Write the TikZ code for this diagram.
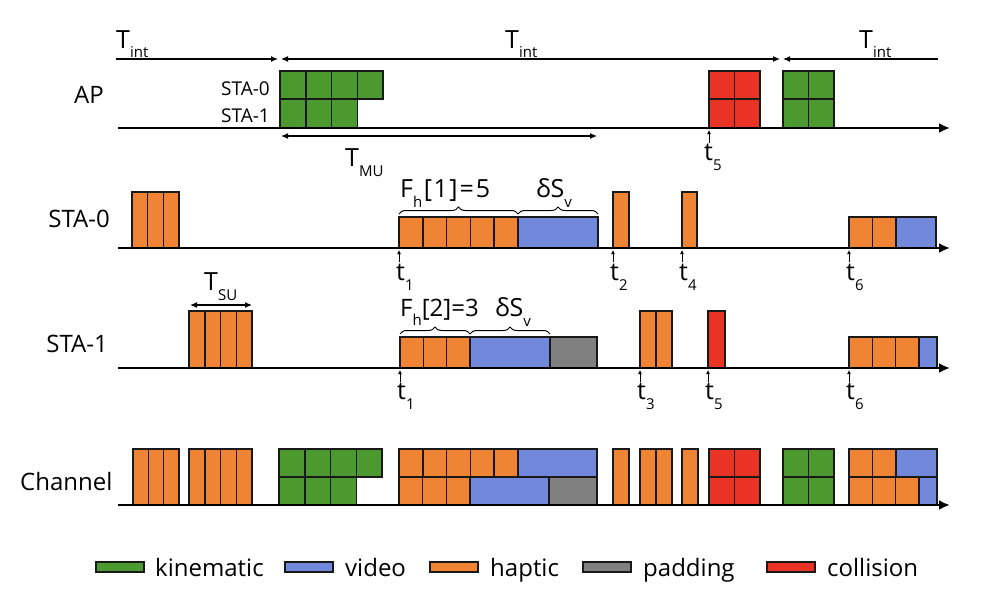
\documentclass[tikz,border=0pt]{standalone}
\usepackage{fontspec}
\setmainfont{Open Sans}
\usetikzlibrary{arrows.meta,decorations.pathreplacing}
\definecolor{kin}{HTML}{4B992F}
\definecolor{vid}{HTML}{7289DB}
\definecolor{hap}{HTML}{EF8434}
\definecolor{pad}{HTML}{808080}
\definecolor{col}{HTML}{E93425}
\newcommand{\lsub}[1]{\raisebox{-0.4em}{\fontsize{15}{15}\selectfont #1}}
\newcommand{\cellrow}[6]{\foreach \ci in {1,...,#3}{\draw[blk,fill=#6] ({#1+(\ci-1)*#2},#4) rectangle ({#1+\ci*#2},#5);}}
\tikzset{smt/.tip={Latex[length=7pt,width=6pt]}}
\begin{document}
\begin{tikzpicture}[x=1pt,y=-1pt,
  blk/.style={draw=black!90,line width=1.5pt},
  axis/.style={line width=2.4pt,-{Latex[length=11pt,width=10pt]}},
  dim/.style={line width=1.1pt},
  tick/.style={line width=0.9pt,-{Latex[length=4pt,width=4pt]}},
  lab/.style={inner sep=0pt,font=\fontsize{24}{24}\selectfont},
  tl/.style={inner sep=0pt,font=\fontsize{25}{25}\selectfont},
  small/.style={inner sep=0pt,font=\fontsize{19}{19}\selectfont},
  brc/.style={decorate,decoration={brace,amplitude=7pt},line width=1pt}]
\useasboundingbox (0,0) rectangle (1000,597);

% ---------------- AP row ----------------
\node[lab,anchor=base] (apl) at (89,103) {AP};
\node[small,anchor=base east] (s0l) at (270,95) {STA-0};
\node[small,anchor=base east] (s1l) at (270,122) {STA-1};
\cellrow{280}{25.75}{4}{71}{99}{kin}
\cellrow{280}{25.75}{3}{99}{128}{kin}
\cellrow{709}{25.5}{2}{71}{99}{col}
\cellrow{709}{25.5}{2}{99}{128}{col}
\cellrow{783}{25.5}{2}{71}{99}{kin}
\cellrow{783}{25.5}{2}{99}{128}{kin}
\coordinate (apS) at (118,128); \coordinate (apE) at (950,128);
\draw[axis] (apS) -- (apE);
% T_int
\coordinate (i0) at (116,59); \coordinate (i1) at (278,59);
\coordinate (i2) at (281,59); \coordinate (i3) at (780,59);
\coordinate (i4) at (783,59); \coordinate (i5) at (938,59);
\draw[dim,-{smt}] (i0) -- (i1);
\draw[dim,{smt}-{smt}] (i2) -- (i3);
\draw[dim,{smt}-] (i4) -- (i5);
\node[tl,anchor=base west] (ti1) at (116,48) {T\lsub{int}};
\node[tl,anchor=base west] (ti2) at (505,48) {T\lsub{int}};
\node[tl,anchor=base west] (ti3) at (859,48) {T\lsub{int}};
% T_MU
\coordinate (m0) at (281,136); \coordinate (m1) at (597,136);
\draw[dim,{smt}-{smt}] (m0) -- (m1);
\node[tl,anchor=base west] (tmu) at (345,166) {T\lsub{MU}};
% t5
\coordinate (a5a) at (709,143); \coordinate (a5b) at (709,130);
\draw[tick] (a5a) -- (a5b);
\node[tl,anchor=base west] (t5a) at (704,160) {t\lsub{5}};

% ---------------- STA-0 row ----------------
\node[lab,anchor=base east] (sta0) at (110,227) {STA-0};
\cellrow{132}{15.67}{3}{192}{248}{hap}
\cellrow{399}{23.8}{5}{217}{248}{hap}
\draw[blk,fill=vid] (518,217) rectangle (598,248);
\draw[blk,fill=hap] (613,192) rectangle (629,248);
\draw[blk,fill=hap] (682,192) rectangle (697,248);
\cellrow{849}{23.5}{2}{217}{248}{hap}
\draw[blk,fill=vid] (896,217) rectangle (936,248);
\coordinate (s0S) at (118,248); \coordinate (s0E) at (950,248);
\draw[axis] (s0S) -- (s0E);
\coordinate (b1a) at (399,214); \coordinate (b1b) at (518,214); \coordinate (b1c) at (598,214);
\draw[brc] (b1a) -- (b1b);
\draw[brc] (b1b) -- (b1c);
\node[tl,anchor=base west] (fh1) at (400,197) {F\lsub{h}\kern1.5pt[\kern1.5pt1\kern1.5pt]\kern2pt=\kern2pt5};
\node[tl,anchor=base west] (ds1) at (536,197) {δS\lsub{v}};
\foreach \x/\n in {399/1,613/2,682/4,849/6}{
  \draw[tick] (\x,262) -- (\x,250);
  \node[tl,anchor=base west] (t0\n) at (\x-3,280) {t\lsub{\n}};
}

% ---------------- STA-1 row ----------------
\node[lab,anchor=base east] (sta1) at (108,352) {STA-1};
\cellrow{189}{15.75}{4}{311}{368}{hap}
\coordinate (u0) at (190,305); \coordinate (u1) at (252,305);
\draw[dim,{smt}-{smt}] (u0) -- (u1);
\node[tl,anchor=base west] (tsu) at (204,290) {T\lsub{SU}};
\cellrow{400}{23.33}{3}{337}{368}{hap}
\draw[blk,fill=vid] (470,337) rectangle (550,368);
\draw[blk,fill=pad] (550,337) rectangle (597,368);
\cellrow{640}{16}{2}{311}{368}{hap}
\draw[blk,fill=col] (708,311) rectangle (725,368);
\cellrow{849}{23.33}{3}{337}{368}{hap}
\draw[blk,fill=vid] (919,337) rectangle (937,368);
\coordinate (s1S) at (118,368); \coordinate (s1E) at (950,368);
\draw[axis] (s1S) -- (s1E);
\coordinate (b2a) at (400,334); \coordinate (b2b) at (470,334); \coordinate (b2c) at (550,334);
\draw[brc] (b2a) -- (b2b);
\draw[brc] (b2b) -- (b2c);
\node[lab,anchor=base west] (fh2) at (400,316) {F\lsub{h}[2]=3};
\node[tl,anchor=base west] (ds2) at (495,316) {δS\lsub{v}};
\foreach \x/\n in {400/1,640/3,708/5,849/6}{
  \draw[tick] (\x,382) -- (\x,370);
  \node[tl,anchor=base west] (t1\n) at (\x-3,399) {t\lsub{\n}};
}

% ---------------- Channel row ----------------
\node[lab,anchor=base west] (chl) at (20,490) {Channel};
\cellrow{133}{15.33}{3}{449}{505}{hap}
\cellrow{189}{15.75}{4}{449}{505}{hap}
\cellrow{279}{25.75}{4}{449}{477}{kin}
\cellrow{279}{25.75}{3}{477}{505}{kin}
\cellrow{399}{23.8}{5}{449}{477}{hap}
\draw[blk,fill=vid] (518,449) rectangle (597,477);
\cellrow{399}{23.67}{3}{477}{505}{hap}
\draw[blk,fill=vid] (470,477) rectangle (549,505);
\draw[blk,fill=pad] (549,477) rectangle (597,505);
\draw[blk,fill=hap] (613,449) rectangle (629,505);
\cellrow{640}{16}{2}{449}{505}{hap}
\draw[blk,fill=hap] (682,449) rectangle (698,505);
\cellrow{709}{25.5}{2}{449}{477}{col}
\cellrow{709}{25.5}{2}{477}{505}{col}
\cellrow{783}{25.5}{2}{449}{477}{kin}
\cellrow{783}{25.5}{2}{477}{505}{kin}
\cellrow{849}{23.5}{2}{449}{477}{hap}
\draw[blk,fill=vid] (896,449) rectangle (937,477);
\cellrow{849}{23.33}{3}{477}{505}{hap}
\draw[blk,fill=vid] (919,477) rectangle (937,505);
\coordinate (chS) at (118,505); \coordinate (chE) at (950,505);
\draw[axis] (chS) -- (chE);

% ---------------- Legend ----------------
\foreach \x/\c/\t/\n/\tx in {96/kin/kinematic/1/155,285/vid/video/2/345,430/hap/haptic/3/490,583/pad/padding/4/643,767/col/collision/5/827}{
  \draw[blk,line width=1.2pt,fill=\c] (\x,562) rectangle (\x+48,572);
  \node[lab,anchor=base west] (lg\n) at (\tx,576) {\t};
}
\end{tikzpicture}
\end{document}
